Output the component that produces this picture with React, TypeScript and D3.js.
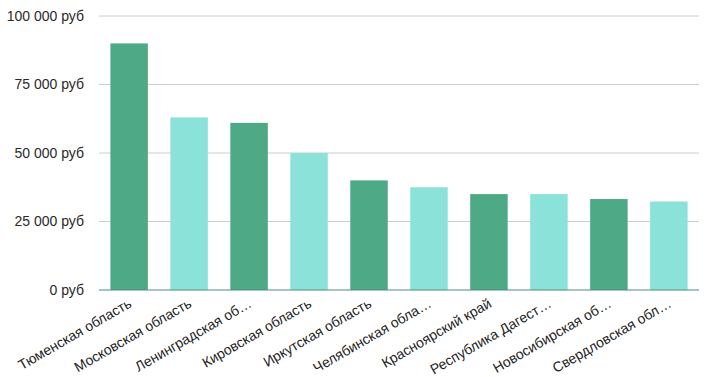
import React from "react";
import * as d3 from "d3";

const categories = [
  "Тюменская область",
  "Московская область",
  "Ленинградская об…",
  "Кировская область",
  "Иркутская область",
  "Челябинская обла…",
  "Красноярский край",
  "Республика Дагест…",
  "Новосибирская об…",
  "Свердловская обл…",
];
const values = [90000, 63000, 61000, 50000, 40000, 37500, 35000, 35000, 33200, 32300];
const yTicks = [0, 25000, 50000, 75000, 100000];
const colors = ["#4ea987", "#8ae2d8"];

const W = 710, H = 377;
const left = 99, right = 699, top = 16, bottom = 290;

export default function App() {
  const x = d3.scaleBand<string>().domain(categories).range([left, right]).paddingInner(0.375).paddingOuter(0.19);
  const y = d3.scaleLinear().domain([0, 100000]).range([bottom, top]);
  const fmt = (v: number) => d3.format(",")(v).replace(/,/g, " ") + " руб";
  return (
    <svg width={W} height={H} style={{ position: "absolute", left: 0, top: 0, fontFamily: "Arial, 'Liberation Sans', sans-serif" }}>
      <rect width={W} height={H} fill="#fff" />
      {yTicks.map((t) => (
        <g key={t}>
          {t !== 0 && <line x1={left} x2={right} y1={y(t)} y2={y(t)} stroke="#cccccc" strokeWidth={1} />}
          <text x={84} y={y(t)} dy="0.35em" textAnchor="end" fontSize={14} fill="#2a2a2a">{fmt(t)}</text>
        </g>
      ))}
      {categories.map((c, i) => (
        <rect key={c} x={x(c)} y={y(values[i])} width={x.bandwidth()} height={y(0) - y(values[i])} fill={colors[i % 2]} />
      ))}
      <line x1={left} x2={right} y1={y(0)} y2={y(0)} stroke="#4a8f78" strokeWidth={1} />
      {categories.map((c) => {
        const cx = (x(c) as number) + x.bandwidth() / 2 + 1;
        return (
          <text key={c} transform={`translate(${cx},${bottom + 12}) rotate(-30)`} textAnchor="end" dy="0.35em" fontSize={14} fill="#222">{c}</text>
        );
      })}
    </svg>
  );
}
